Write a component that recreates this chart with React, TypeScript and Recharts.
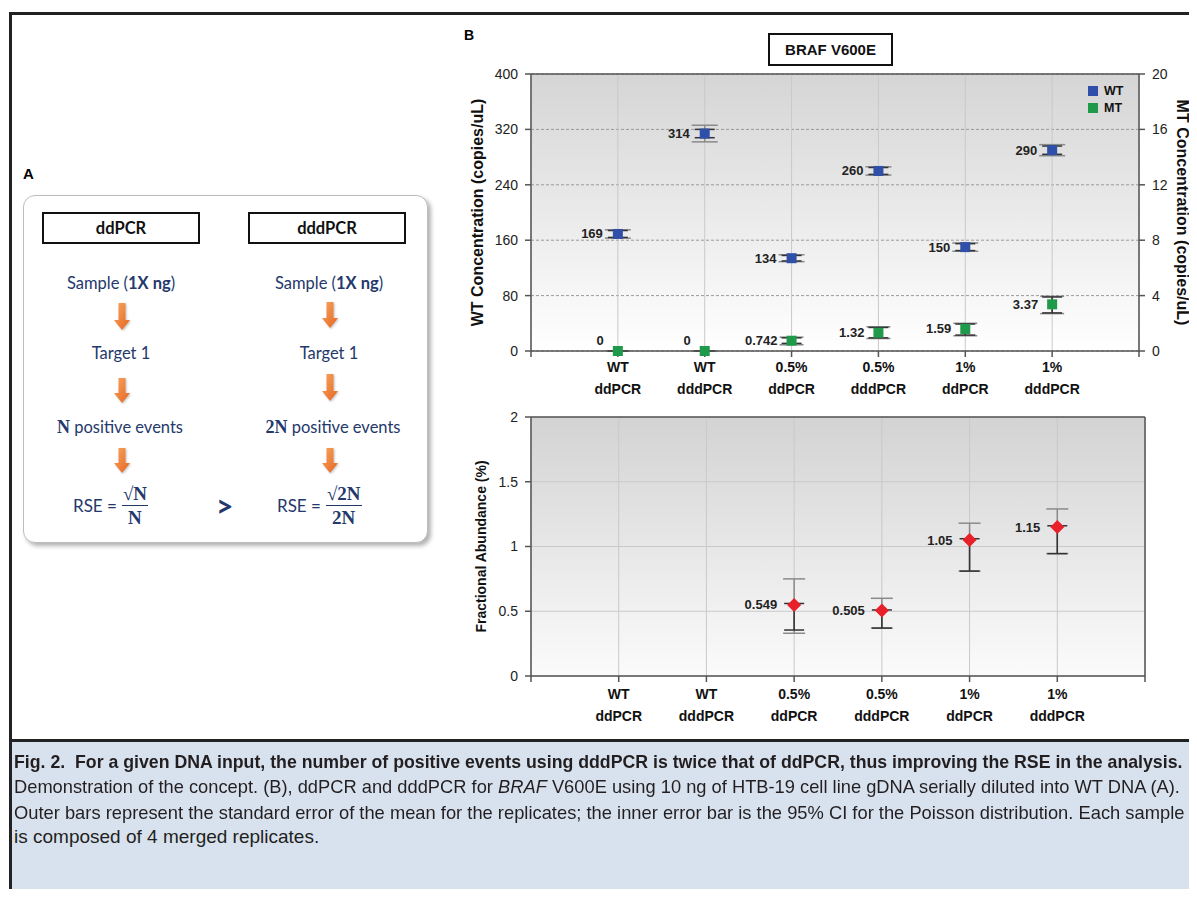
import React, { useLayoutEffect, useRef, useState } from "react";
import {
  ScatterChart, Scatter, XAxis, YAxis, CartesianGrid, ErrorBar,
  LabelList, ReferenceLine, Legend,
} from "recharts";

// ── categories / ticks ──────────────────────────────────────────────
const CAT_TOP = ["WT", "WT", "0.5%", "0.5%", "1%", "1%"];
const CAT_BOTTOM = ["ddPCR", "dddPCR", "ddPCR", "dddPCR", "ddPCR", "dddPCR"];
const CAT_POS = [1, 2, 3, 4, 5, 6];
const X_TICKS = [0, 1, 2, 3, 4, 5, 6, 7];

const WT_TICKS = [0, 80, 160, 240, 320, 400];
const MT_TICKS = [0, 4, 8, 12, 16, 20];
const FA_TICKS = [0, 0.5, 1, 1.5, 2];
const LEGEND_ORDER = ["WT", "MT"];

// ── WT concentration (copies/uL, left axis) ─────────────────────────
const WT_CONC = [169, 314, 134, 260, 150, 290];
const WT_OUTER_LOW = [163, 302, 129, 254, 144, 282];
const WT_OUTER_HIGH = [175, 326, 139, 266, 156, 298];
const WT_INNER_LOW = [164, 308, 130, 255, 145, 284];
const WT_INNER_HIGH = [174, 320, 138, 265, 155, 296];

// ── MT concentration (copies/uL, right axis) ────────────────────────
const MT_CONC = [0, 0, 0.742, 1.32, 1.59, 3.37];
const MT_OUTER_LOW = [0, 0, 0.45, 0.9, 1.1, 2.7];
const MT_OUTER_HIGH = [0, 0, 1.0, 1.75, 2.0, 3.95];
const MT_INNER_LOW = [0, 0, 0.55, 0.95, 1.15, 2.75];
const MT_INNER_HIGH = [0, 0, 0.95, 1.7, 1.95, 3.9];

// ── Fractional abundance (%) ────────────────────────────────────────
const FA_POS = [3, 4, 5, 6];
const FA_VALUE = [0.549, 0.505, 1.05, 1.15];
const FA_OUTER_LOW = [0.33, 0.37, 0.81, 0.945];
const FA_OUTER_HIGH = [0.75, 0.6, 1.18, 1.29];
const FA_INNER_LOW = [0.355, 0.37, 0.81, 0.945];
const FA_INNER_HIGH = [0.56, 0.51, 1.06, 1.16];

const FONT = "'Liberation Sans', Arial, sans-serif";
const NAVY = "#24386b";

function rows(pos: number[], vals: number[], oLo: number[], oHi: number[], iLo: number[], iHi: number[]) {
  return pos.map((x, i) => ({
    x,
    y: vals[i],
    outer: [+(vals[i] - oLo[i]).toFixed(4), +(oHi[i] - vals[i]).toFixed(4)],
    inner: [+(vals[i] - iLo[i]).toFixed(4), +(iHi[i] - vals[i]).toFixed(4)],
  }));
}

const wtData = rows(CAT_POS, WT_CONC, WT_OUTER_LOW, WT_OUTER_HIGH, WT_INNER_LOW, WT_INNER_HIGH);
const mtData = rows(CAT_POS, MT_CONC, MT_OUTER_LOW, MT_OUTER_HIGH, MT_INNER_LOW, MT_INNER_HIGH);
const faData = rows(FA_POS, FA_VALUE, FA_OUTER_LOW, FA_OUTER_HIGH, FA_INNER_LOW, FA_INNER_HIGH);

const square = (color: string) => (p: any) => (
  <rect x={p.cx - 5} y={p.cy - 5} width={10} height={10} fill={color} />
);
const diamond = (p: any) => (
  <polygon
    points={`${p.cx},${p.cy - 7} ${p.cx + 7},${p.cy} ${p.cx},${p.cy + 7} ${p.cx - 7},${p.cy}`}
    fill="#e8202a"
  />
);

const valueLabel = (dx: number) => (p: any) => {
  const cx = p.x + p.width / 2;
  const cy = p.y + p.height / 2;
  const zero = Number(p.value) === 0;
  return (
    <text x={cx - dx} y={zero ? cy - 11 : cy} dy={4.5} textAnchor="end"
      fontSize={13} fontWeight="bold" fill="#222" fontFamily={FONT}>
      {p.value}
    </text>
  );
};

const catTick = (dy1: number) => (p: any) => {
  const i = CAT_POS.indexOf(p.payload.value);
  if (i < 0) return <g />;
  return (
    <text x={p.x} y={p.y} textAnchor="middle" fontSize={14} fontWeight="bold" fill="#111" fontFamily={FONT}>
      <tspan x={p.x} dy={dy1}>{CAT_TOP[i]}</tspan>
      <tspan x={p.x} dy={22}>{CAT_BOTTOM[i]}</tspan>
    </text>
  );
};

const AXIS = { stroke: "#555", strokeWidth: 1.5 };
const TICK = { fontSize: 14, fill: "#222", fontFamily: FONT };
const TITLE = { fontSize: 16, fontWeight: "bold", fill: "#111", fontFamily: FONT, textAnchor: "middle" as const };

function Arrow({ x, y1, y2 }: { x: number; y1: number; y2: number }) {
  const h = y2 - y1;
  return (
    <svg style={{ position: "absolute", left: x - 9, top: y1, filter: "drop-shadow(1px 1px 1px rgba(0,0,0,0.25))" }} width={18} height={h}>
      <polygon points={`5.5,0 12.5,0 12.5,${h - 10} 17,${h - 10} 9,${h} 1,${h - 10} 5.5,${h - 10}`} fill="url(#arrowGrad)" />
    </svg>
  );
}

function Frac({ num, den }: { num: string; den: string }) {
  return (
    <span style={{ display: "inline-flex", flexDirection: "column", alignItems: "center", verticalAlign: "middle", fontFamily: "'Liberation Serif', 'DejaVu Serif', serif", fontWeight: "bold", fontSize: 19, lineHeight: "19px" }}>
      <span style={{ padding: "0 1px 2px" }}>{num}</span>
      <span style={{ borderTop: `1.5px solid ${NAVY}`, padding: "2px 1px 0", alignSelf: "stretch", textAlign: "center" }}>{den}</span>
    </span>
  );
}

const lato = "Lato, 'Open Sans', sans-serif";
function CenterText({ x, y, children }: { x: number; y: number; children: React.ReactNode }) {
  return (
    <div style={{ position: "absolute", left: x - 100, width: 200, top: y - 11, lineHeight: "22px", textAlign: "center", fontFamily: lato, fontSize: 16.5, color: NAVY }}>
      {children}
    </div>
  );
}
const serifN = { fontFamily: "'Liberation Serif', serif", fontWeight: "bold" as const, fontSize: 18 };

// caption line squeezed horizontally to a target width (the printed caption uses a condensed face)
function FitLine({ top, width, bold, children }: { top: number; width: number; bold?: boolean; children: React.ReactNode }) {
  const ref = useRef<HTMLSpanElement>(null);
  const [scale, setScale] = useState(1);
  useLayoutEffect(() => {
    if (ref.current) setScale(Math.min(1, width / ref.current.offsetWidth));
  }, [width]);
  return (
    <div style={{ position: "absolute", left: 14, top, whiteSpace: "nowrap", lineHeight: "24px", fontFamily: FONT, fontSize: 19, fontWeight: bold ? "bold" : "normal", color: "#231f20", transform: `scaleX(${scale})`, transformOrigin: "0 0" }}>
      <span ref={ref}>{children}</span>
    </div>
  );
}

export default function App() {
  return (
    <div style={{ position: "relative", width: 1197, height: 897, margin: -8, overflow: "hidden", background: "#fff" }}>
      <svg width={0} height={0} style={{ position: "absolute" }}>
        <defs>
          <linearGradient id="bgTop" x1="0" y1="0" x2="0" y2="1">
            <stop offset="0%" stopColor="#d5d5d5" />
            <stop offset="100%" stopColor="#ffffff" />
          </linearGradient>
          <linearGradient id="bgBottom" x1="0" y1="0" x2="0" y2="1">
            <stop offset="0%" stopColor="#d3d3d3" />
            <stop offset="100%" stopColor="#fbfbfb" />
          </linearGradient>
          <linearGradient id="arrowGrad" x1="0" y1="0" x2="1" y2="1">
            <stop offset="0%" stopColor="#f6a560" />
            <stop offset="100%" stopColor="#e8651f" />
          </linearGradient>
        </defs>
      </svg>

      {/* frame */}
      <div style={{ position: "absolute", left: 9, top: 12, width: 1200, height: 900, borderTop: "3px solid #222", borderLeft: "3px solid #222" }} />

      {/* panel A */}
      <div style={{ position: "absolute", left: 23, top: 165, fontFamily: FONT, fontWeight: "bold", fontSize: 15 }}>A</div>
      <div style={{ position: "absolute", left: 23, top: 195, width: 405, height: 348, boxSizing: "border-box", border: "1.5px solid #bdbdbd", borderRadius: 12, boxShadow: "3px 3px 4px rgba(0,0,0,0.3)", background: "#fff" }} />
      {[{ l: 42, t: "ddPCR" }, { l: 248, t: "dddPCR" }].map(b => (
        <div key={b.t} style={{ position: "absolute", left: b.l, top: 212, width: 158, height: 32, boxSizing: "border-box", border: "2px solid #111", display: "flex", alignItems: "center", justifyContent: "center", fontFamily: lato, fontWeight: "bold", fontSize: 16.5, color: "#111" }}>{b.t}</div>
      ))}
      <CenterText x={121} y={283}>Sample (<b>1X ng</b>)</CenterText>
      <CenterText x={329} y={283}>Sample (<b>1X ng</b>)</CenterText>
      <CenterText x={121} y={353}>Target 1</CenterText>
      <CenterText x={329} y={353}>Target 1</CenterText>
      <CenterText x={120} y={427}><span style={serifN}>N</span> positive events</CenterText>
      <CenterText x={333} y={427}><span style={serifN}>2N</span> positive events</CenterText>
      <Arrow x={122} y1={303} y2={330} />
      <Arrow x={122} y1={378} y2={403} />
      <Arrow x={122} y1={448} y2={473} />
      <Arrow x={330} y1={302} y2={328} />
      <Arrow x={330} y1={374} y2={401} />
      <Arrow x={330} y1={448} y2={473} />
      <div style={{ position: "absolute", left: 73, top: 483, height: 44, display: "flex", alignItems: "center", fontFamily: lato, fontSize: 17, color: NAVY }}>
        <span style={{ marginRight: 5 }}>RSE =</span><Frac num="√N" den="N" />
      </div>
      <div style={{ position: "absolute", left: 216, top: 488, fontFamily: lato, fontWeight: "bold", fontSize: 30, lineHeight: "34px", color: NAVY }}>&gt;</div>
      <div style={{ position: "absolute", left: 277, top: 483, height: 44, display: "flex", alignItems: "center", fontFamily: lato, fontSize: 17, color: NAVY }}>
        <span style={{ marginRight: 5 }}>RSE =</span><Frac num="√2N" den="2N" />
      </div>

      {/* panel B */}
      <div style={{ position: "absolute", left: 464, top: 27, fontFamily: FONT, fontWeight: "bold", fontSize: 14 }}>B</div>
      <div style={{ position: "absolute", left: 768, top: 33, width: 125, height: 33, boxSizing: "border-box", border: "2px solid #111", display: "flex", alignItems: "center", justifyContent: "center", fontFamily: FONT, fontWeight: "bold", fontSize: 15, color: "#111", background: "#fff" }}>BRAF V600E</div>

      <div style={{ position: "absolute", left: 460, top: 60 }}>
        <ScatterChart width={737} height={340} margin={{ top: 14, right: 0, bottom: 4, left: 0 }}>
          <CartesianGrid vertical={false} yAxisId="left" stroke="#9a9a9a" strokeDasharray="3 2" fill="url(#bgTop)" />
          <CartesianGrid horizontal={false} yAxisId="left" stroke="#c9c9c9" />
          <XAxis type="number" dataKey="x" domain={[0, 7]} ticks={X_TICKS} interval={0} height={45}
            axisLine={AXIS} tickLine={AXIS} tickSize={6} tickMargin={2} tick={catTick(13)} />
          <YAxis yAxisId="left" type="number" dataKey="y" domain={[0, 400]} ticks={WT_TICKS} width={71}
            axisLine={AXIS} tickLine={AXIS} tickSize={6} tickMargin={7} tick={TICK}
            label={{ value: "WT Concentration (copies/uL)", angle: -90, position: "insideLeft", offset: 17, fontSize: 16, fontWeight: "bold", style: TITLE }} />
          <YAxis yAxisId="right" orientation="right" type="number" dataKey="y" domain={[0, 20]} ticks={MT_TICKS} width={58}
            axisLine={AXIS} tickLine={AXIS} tickSize={6} tickMargin={7} tick={TICK}
            label={{ value: "MT Concentration (copies/uL)", angle: 90, position: "insideRight", offset: 14, fontSize: 16, fontWeight: "bold", style: TITLE }} />
          <ReferenceLine yAxisId="left" y={400} stroke="#555" strokeWidth={1.5} />
          <Legend layout="vertical" align="center" verticalAlign="middle"
            wrapperStyle={{ top: 22, left: 628, width: 60 }}
            content={(props: any) => (
              <div style={{ fontFamily: FONT, fontWeight: "bold", fontSize: 12.5, color: "#111" }}>
                {[...(props.payload || [])]
                  .sort((a: any, b: any) => LEGEND_ORDER.indexOf(a.value) - LEGEND_ORDER.indexOf(b.value))
                  .map((e: any) => (
                    <div key={e.value} style={{ display: "flex", alignItems: "center", height: 17 }}>
                      <span style={{ width: 10, height: 10, background: e.color, marginRight: 6 }} />{e.value}
                    </div>
                  ))}
              </div>
            )} />
          <Scatter name="WT" data={wtData} yAxisId="left" fill="#2f4fa8" shape={square("#2f4fa8")} isAnimationActive={false}>
            <ErrorBar dataKey="outer" direction="y" width={13} stroke="#8a8a8a" strokeWidth={1.5} />
            <ErrorBar dataKey="inner" direction="y" width={10} stroke="#333" strokeWidth={1.5} />
            <LabelList dataKey="y" content={valueLabel(15)} />
          </Scatter>
          <Scatter name="MT" data={mtData} yAxisId="right" fill="#1f9a4a" shape={square("#1f9a4a")} isAnimationActive={false}>
            <ErrorBar dataKey="outer" direction="y" width={12} stroke="#8a8a8a" strokeWidth={1.5} />
            <ErrorBar dataKey="inner" direction="y" width={10} stroke="#333" strokeWidth={1.5} />
            <LabelList dataKey="y" content={valueLabel(14)} />
          </Scatter>
        </ScatterChart>
      </div>

      <div style={{ position: "absolute", left: 460, top: 405 }}>
        <ScatterChart width={737} height={325} margin={{ top: 12, right: 52, bottom: 4, left: 0 }}>
          <CartesianGrid stroke="#c9c9c9" fill="url(#bgBottom)" />
          <XAxis type="number" dataKey="x" domain={[0, 7]} ticks={X_TICKS} interval={0} height={50}
            axisLine={AXIS} tickLine={AXIS} tickSize={6} tickMargin={2} tick={catTick(15)} />
          <YAxis type="number" dataKey="y" domain={[0, 2]} ticks={FA_TICKS} width={71}
            axisLine={AXIS} tickLine={AXIS} tickSize={6} tickMargin={7} tick={TICK}
            label={{ value: "Fractional Abundance (%)", angle: -90, position: "insideLeft", offset: 21, fontSize: 14, fontWeight: "bold", style: { ...TITLE, fontSize: 14 } }} />
          <ReferenceLine y={2} stroke="#555" strokeWidth={1.5} />
          <ReferenceLine x={7} stroke="#555" strokeWidth={1.5} />
          <Scatter name="FA" data={faData} fill="#e8202a" shape={diamond} isAnimationActive={false}>
            <ErrorBar dataKey="outer" direction="y" width={11} stroke="#8a8a8a" strokeWidth={1.5} />
            <ErrorBar dataKey="inner" direction="y" width={10} stroke="#333" strokeWidth={1.5} />
            <LabelList dataKey="y" content={valueLabel(17)} />
          </Scatter>
        </ScatterChart>
      </div>

      {/* caption */}
      <div style={{ position: "absolute", left: 12, top: 739, width: 1190, height: 160, background: "#d8e2ef", borderTop: "3px solid #222" }} />
      <FitLine top={750} width={1168} bold>
        Fig. 2.&nbsp;&nbsp;For a given DNA input, the number of positive events using dddPCR is twice that of ddPCR, thus improving the RSE in the analysis.
      </FitLine>
      <FitLine top={775} width={1166}>
        Demonstration of the concept. (B), ddPCR and dddPCR for <i>BRAF</i> V600E using 10 ng of HTB-19 cell line gDNA serially diluted into WT DNA (A).
      </FitLine>
      <FitLine top={801} width={1170}>
        Outer bars represent the standard error of the mean for the replicates; the inner error bar is the 95% CI for the Poisson distribution. Each sample
      </FitLine>
      <FitLine top={825} width={317}>
        is composed of 4 merged replicates.
      </FitLine>
    </div>
  );
}
